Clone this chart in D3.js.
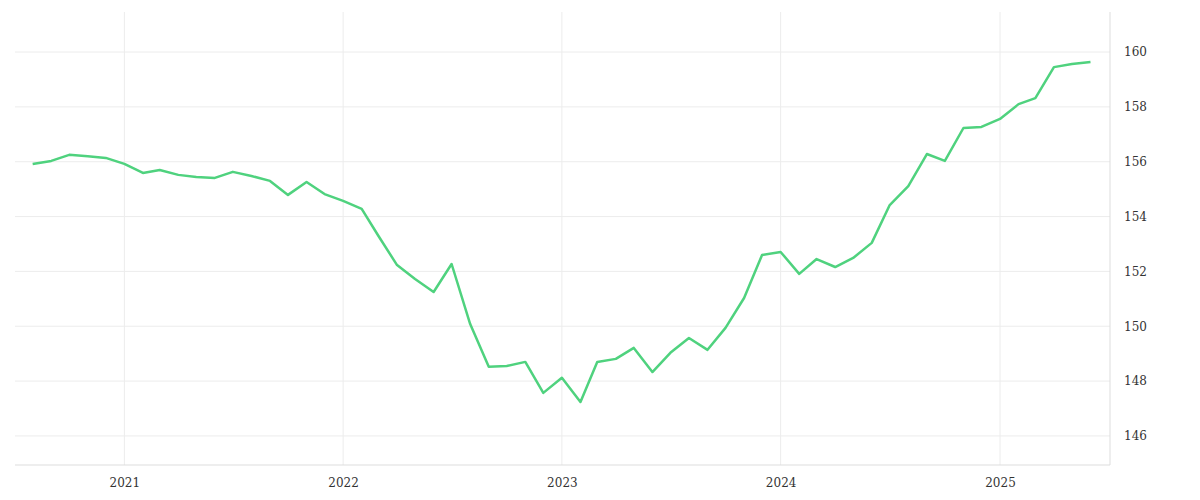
<!DOCTYPE html>
<html><head><meta charset="utf-8">
<script src="https://cdn.jsdelivr.net/npm/d3@7"></script>
<style>body{margin:0;background:#fff}</style></head>
<body><svg id="c" width="1200" height="500"></svg>
<script>
const startMonth = "2020-08";
const values = [155.92,156.03,156.25,156.2,156.14,155.92,155.59,155.70,155.52,155.44,155.41,155.63,155.48,155.30,154.79,155.26,154.82,
154.57,154.28,153.29,152.23,151.72,151.25,152.27,150.08,148.52,148.55,148.70,147.57,
148.12,147.24,148.70,148.81,149.21,148.33,149.03,149.57,149.14,149.94,151.03,152.60,
152.71,151.91,152.45,152.16,152.49,153.04,154.42,155.11,156.28,156.03,157.23,157.27,
157.56,158.10,158.32,159.45,159.56,159.64];
const yTicks = [146,148,150,152,154,156,158,160];
const xTickYears = [2021,2022,2023,2024,2025];

const dates = values.map((v,i)=>new Date(2020, 7+i, 1));
const svg = d3.select("#c");
const L=15,R=1110,T=12,B=465;
const x = d3.scaleTime().domain([new Date(2020,3,1), new Date(2025,8,1)]).range([L,R]);
// calibrate: 2021 at 124, 2025 at 1000
x.domain([new Date(2020,0,1), new Date(2025,0,1)]).range([124-219, 1000]);
const y = d3.scaleLinear().domain([144.94,161.46]).range([B,T]);
const g = svg.append("g");
g.selectAll(".hg").data(yTicks).join("line").attr("x1",L).attr("x2",R)
 .attr("y1",d=>y(d)).attr("y2",d=>y(d)).attr("stroke","#ececec");
g.selectAll(".vg").data(xTickYears).join("line").attr("x1",d=>x(new Date(d,0,1))).attr("x2",d=>x(new Date(d,0,1)))
 .attr("y1",T).attr("y2",B).attr("stroke","#ececec");
g.append("line").attr("x1",L).attr("x2",R).attr("y1",B).attr("y2",B).attr("stroke","#ddd");
g.append("line").attr("x1",R).attr("x2",R).attr("y1",T).attr("y2",B).attr("stroke","#ddd");
svg.append("g").attr("transform",`translate(${R},0)`)
 .call(d3.axisRight(y).tickValues(yTicks).tickSize(0).tickPadding(14))
 .call(a=>a.select(".domain").remove())
 .selectAll("text").attr("font-family","DejaVu Serif").attr("font-size",12).attr("fill","#333");
svg.append("g").attr("transform",`translate(0,${B})`)
 .call(d3.axisBottom(x).tickValues(xTickYears.map(d=>new Date(d,0,1))).tickFormat(d3.timeFormat("%Y")).tickSize(0).tickPadding(13))
 .call(a=>a.select(".domain").remove())
 .selectAll("text").attr("font-family","DejaVu Serif").attr("font-size",12).attr("fill","#333");
svg.append("path").datum(values).attr("fill","none").attr("stroke","#4fd27e").attr("stroke-width",2.5)
 .attr("stroke-linejoin","round")
 .attr("d",d3.line().x((d,i)=>x(dates[i])).y(d=>y(d)));
</script></body></html>
